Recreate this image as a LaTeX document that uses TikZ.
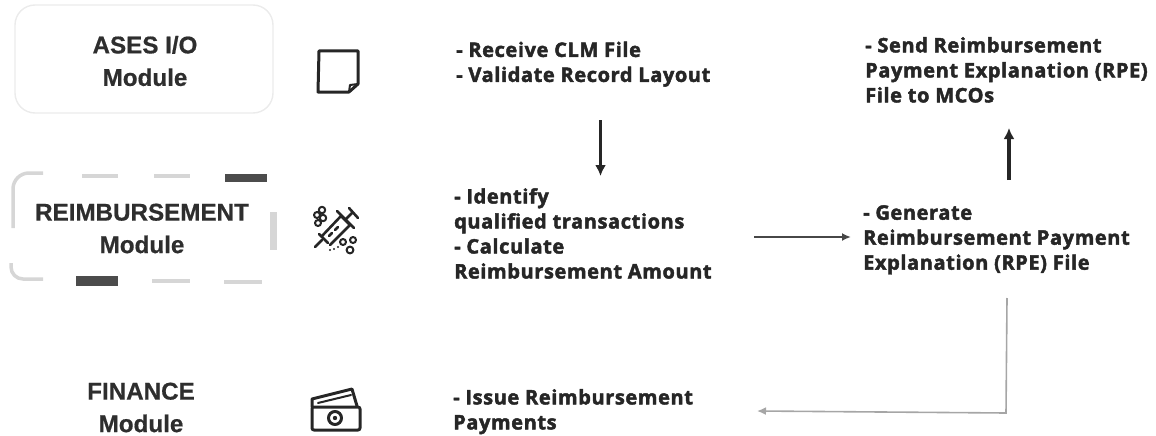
\documentclass[tikz,border=0pt]{standalone}
\usepackage{fontspec}
\setmainfont{Liberation Sans}[BoldFeatures={FakeBold=0.6}]
\setsansfont{Open Sans}[BoldFeatures={FakeBold=2.2,LetterSpace=3}]
\usetikzlibrary{arrows.meta}
\tikzset{
 modlabel/.style={font=\fontsize{24.2}{32.5}\selectfont\bfseries,text=black!82,align=center,inner sep=0pt},
 steplabel/.style={font=\fontsize{20}{25}\selectfont\bfseries\sffamily,text=black!85,align=left,inner sep=0pt,anchor=north west},
 darkarrow/.style={draw=black!85,line width=3.2pt,-{Latex[length=11pt,width=11pt]}},
 midarrow/.style={draw=black!72,line width=2pt,-{Latex[length=9pt,width=8pt]}},
 paleline/.style={draw=black!35,line width=1.6pt,-{Latex[length=9pt,width=8pt]}},
 icon/.style={draw=black!85,line width=2.6pt,line join=round,line cap=round},
 dashlight/.style={draw=black!16,line width=3.5pt},
 dashdark/.style={draw=black!70,line width=8pt},
}
\begin{document}
\begin{tikzpicture}[x=1pt,y=-1pt]
\useasboundingbox (0,0) rectangle (1156,436);
\node[draw=black!8,line width=1.4pt,rounded corners=20pt,minimum width=258pt,minimum height=108pt,inner sep=0pt] (asesbox) at (144,59) {};
\node[modlabel] (ases) at (145,61) {ASES I/O\\Module};
\draw[dashlight,rounded corners=16pt] (43,173) -- (13,173) -- (13,228);
\draw[dashlight,rounded corners=12pt] (11,263) -- (11,279) -- (43,279);
\draw[dashlight] (82,176) -- (118,176);
\draw[dashlight] (154,176) -- (190,176);
\draw[dashdark] (225,178) -- (267,178);
\draw[dashlight,line width=7pt] (273,212) -- (273,250);
\draw[dashdark,line width=10pt] (76,281) -- (118,281);
\draw[dashlight] (152,281) -- (190,281);
\draw[dashlight] (224,282) -- (262,282);
\node[modlabel] (reimb) at (142,228.5) {REIMBURSEMENT\\Module};
\node[modlabel] (fin) at (141,407.5) {FINANCE\\Module};
\draw[icon,line width=3pt] (319,51) -- (358,51) -- (358,84) -- (349,92) -- (318,92) -- cycle;
\draw[icon,line width=2pt] (358,84) -- (350,85) -- (349,92);
\begin{scope}[icon]
\draw (315,247) -- (322,240);
\draw (319,234) -- (328,243);
\draw (322,236) -- (341,216) -- (350,225) -- (330,245);
\draw (337,211) -- (354,228);
\draw (345,220) -- (352,213);
\draw (349,208) -- (358,218);
\draw (329,236) -- (332,233) (335,230) -- (338,227);
\end{scope}
\begin{scope}[icon,line width=2pt]
\draw (322,210) circle (3.2pt) (317,215) circle (3pt) (323,218) circle (3.2pt) (318,223) circle (3pt);
\draw (343,242) circle (3pt) (353,240) circle (3pt) (350,250) circle (3.4pt);
\fill[black!85] (334,249) circle (1.2pt) (338,247) circle (1.2pt) (330,250) circle (1.2pt);
\end{scope}
\begin{scope}[icon,line width=3pt]
\draw[rounded corners=2pt] (312,407) -- (312,430) -- (360,430) -- (360,407) -- cycle;
\draw (312,407) -- (312,399) -- (352,389) -- (357,406);
\draw[line width=2pt] (318,403) -- (351,395);
\draw (335,418) circle (6.5pt);
\fill[black!85] (335,418) circle (2.2pt);
\end{scope}
\node[steplabel] (s1) at (456,41.5) {- Receive CLM File\\- Validate Record Layout};
\node[steplabel] (s2) at (454,188) {- Identify\\qualified transactions\\- Calculate\\Reimbursement Amount};
\node[steplabel] (s3) at (863,205) {- Generate\\Reimbursement Payment\\Explanation (RPE) File};
\node[steplabel] (s4) at (865,37) {- Send Reimbursement\\Payment Explanation (RPE)\\File to MCOs};
\node[steplabel] (s5) at (453,389) {- Issue Reimbursement\\Payments};
\coordinate (a1s) at (600.5,120); \coordinate (a1e) at (600.5,176);
\coordinate (a2s) at (1009,180); \coordinate (a2e) at (1009,128);
\coordinate (a3s) at (754,237); \coordinate (a3e) at (851,237);
\coordinate (a4s) at (1007,298); \coordinate (a4m) at (1006,413); \coordinate (a4e) at (757,411);
\draw[darkarrow] (a1s) -- (a1e);
\draw[darkarrow] (a2s) -- (a2e);
\draw[midarrow] (a3s) -- (a3e);
\draw[paleline] (a4s) -- (a4m) -- (a4e);
\end{tikzpicture}
\end{document}
